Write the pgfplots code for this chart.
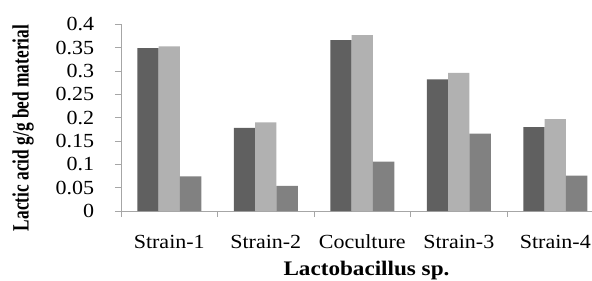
\documentclass[border=0pt]{standalone}
\usepackage{fontspec}
\setmainfont{Liberation Serif}
\usepackage{graphicx}
\usepackage{pgfplots}
\pgfplotsset{compat=1.18}
\definecolor{cA}{HTML}{606060}
\definecolor{cB}{HTML}{B1B1B1}
\definecolor{cC}{HTML}{818181}
\newcommand\sx[1]{\scalebox{1.1}[1]{#1}}
\begin{document}
\fontsize{15}{17}\selectfont
\begin{tikzpicture}
\begin{axis}[
  scale only axis, width=353.25pt, height=140pt,
  ybar=0pt, bar width=0.221,
  xmin=-0.5, xmax=4.38, ymin=0, ymax=0.4,
  axis x line*=bottom, axis y line*=left,
  axis line style={draw=gray!70, line width=0.6pt, -},
  tick align=outside,
  xtick={0,1,2,3,4},
  xticklabels={\sx{Strain-1},\sx{Strain-2},\sx{Coculture},\sx{Strain-3},\sx{Strain-4}},
  major x tick style={draw=none},
  minor xtick={-0.5,0.5,1.5,2.5,3.5},
  minor x tick style={draw=gray!70, line width=0.6pt},
  minor tick length=4.5pt,
  ytick={0,0.05,0.1,0.15,0.2,0.25,0.3,0.35,0.4},
  yticklabels={\sx{0},\sx{0.05},\sx{0.1},\sx{0.15},\sx{0.2},\sx{0.25},\sx{0.3},\sx{0.35},\sx{0.4}},
  y tick style={draw=gray!70, line width=0.6pt},
  major tick length=4.5pt,
  xticklabel style={anchor=base, inner sep=0pt, yshift=-23.6pt, font=\fontsize{15}{17}\selectfont},
  yticklabel style={anchor=east, inner sep=0pt, xshift=-15.5pt, font=\fontsize{15}{17}\selectfont},
  clip=false,
]
\addplot[fill=cA, draw=none] coordinates {(0,0.349) (1,0.178) (2,0.366) (3,0.282) (4,0.180)};
\addplot[fill=cB, draw=none] coordinates {(0,0.353) (1,0.190) (2,0.377) (3,0.296) (4,0.197)};
\addplot[fill=cC, draw=none] coordinates {(0,0.074) (1,0.054) (2,0.106) (3,0.166) (4,0.076)};
\coordinate (o) at (rel axis cs:0,0);
\end{axis}
\node[xshift=-73.5pt, yshift=62.25pt, rotate=90, anchor=center, font=\fontsize{13}{15}\selectfont] at (o) {\scalebox{1}[1.35]{\bfseries Lactic acid g/g bed material}};
\node[xshift=184.1pt, yshift=-48.3pt, anchor=base, font=\fontsize{15.5}{17}\selectfont] at (o) {\scalebox{1.12}[1]{\bfseries Lactobacillus sp.}};
\pgfresetboundingbox
\path (o) ++(-90.75pt,-51.75pt) rectangle ++(444pt,210pt);
\end{tikzpicture}
\end{document}
